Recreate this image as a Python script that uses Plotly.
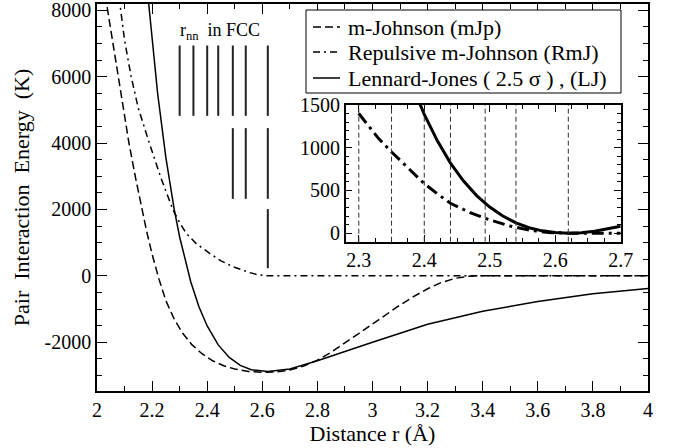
import plotly.graph_objects as go

# Hauptdiagramm: Paarenergie (K) gegen Abstand (Å)
r_mjp = [2.03, 2.05, 2.076, 2.10, 2.116, 2.14, 2.161, 2.18, 2.20, 2.225, 2.25, 2.28, 2.31, 2.345,
         2.38, 2.42, 2.46, 2.50, 2.55, 2.60, 2.65, 2.70, 2.75, 2.80, 2.85, 2.90, 2.95, 3.00,
         3.05, 3.10, 3.15, 3.20, 3.25, 3.30, 3.35, 3.38, 3.50, 4.00]
e_mjp = [8450, 7400, 6000, 4800, 4000, 2950, 2050, 1350, 650, -100, -750, -1300, -1720, -2080,
         -2340, -2560, -2710, -2810, -2880, -2905, -2895, -2840, -2720, -2540, -2300, -2030, -1740, -1450,
         -1160, -880, -620, -390, -200, -75, -12, 0, 0, 0]

r_rmj = [2.08, 2.10, 2.124, 2.15, 2.19, 2.23, 2.275, 2.30, 2.324, 2.36, 2.409, 2.45, 2.493,
         2.554, 2.585, 2.615, 3.00, 4.00]
e_rmj = [8400, 7100, 6000, 5050, 4000, 3000, 2000, 1600, 1280, 970, 680, 450, 277,
         97, 30, 0, 0, 0]

r_lj = [2.18, 2.20, 2.22, 2.25, 2.28, 2.30, 2.32, 2.34, 2.37, 2.40, 2.44, 2.48, 2.52, 2.56,
        2.62, 2.70, 2.80, 2.90, 3.00, 3.20, 3.40, 3.60, 3.80, 4.00]
e_lj = [8840, 7050, 5500, 3560, 2020, 1170, 450, -170, -930, -1510, -2080, -2460, -2700, -2830,
        -2880, -2810, -2560, -2270, -2000, -1460, -1070, -774, -543, -380]

# Einschub (vergroesserter Ausschnitt)
r_in_rmj = [2.30, 2.33, 2.35, 2.375, 2.40, 2.42, 2.44, 2.47, 2.50, 2.53, 2.56, 2.59, 2.62, 2.70]
e_in_rmj = [1400, 1110, 950, 760, 580, 460, 350, 240, 155, 85, 35, 8, 0, 0]

r_in_lj = [2.38, 2.40, 2.42, 2.44, 2.46, 2.48, 2.50, 2.52, 2.54, 2.56, 2.58, 2.60, 2.62,
           2.64, 2.66, 2.68, 2.70]
e_in_lj = [1760, 1390, 1080, 820, 610, 440, 305, 200, 121, 64, 27, 7, 0,
           6, 22, 48, 80]

# Nachbarabstaende r_nn im FCC-Gitter
r_nn = [2.30, 2.35, 2.40, 2.44, 2.493, 2.54, 2.62]
nn_rows = [(4820, 6940, 0), (2320, 4450, 4), (230, 2010, 6)]  # (unten, oben, erster Index)

y_ticks = [-2000, 0, 2000, 4000, 6000, 8000]
y_ticktext = [str(v) for v in y_ticks]

FONT = 'Liberation Serif'


def px_x(p):
    return (p - 97) / 551


def px_y(p):
    return 1 - (p - 4) / 387


fig = go.Figure()

fig.add_trace(go.Scatter(x=r_mjp, y=e_mjp, mode='lines', showlegend=False,
                         line=dict(color='black', width=1.5, dash='8px,4px')))
fig.add_trace(go.Scatter(x=r_rmj, y=e_rmj, mode='lines', showlegend=False,
                         line=dict(color='black', width=1.5, dash='7px,4px,2px,4px')))
fig.add_trace(go.Scatter(x=r_lj, y=e_lj, mode='lines', showlegend=False,
                         line=dict(color='black', width=1.5)))

# Balken fuer r_nn
for lo, hi, start in nn_rows:
    xs, ys = [], []
    for r in r_nn[start:]:
        xs += [r, r, None]
        ys += [lo, hi, None]
    fig.add_trace(go.Scatter(x=xs, y=ys, mode='lines', showlegend=False,
                             line=dict(color='#222222', width=2)))

# Einschub
fig.add_trace(go.Scatter(x=r_in_rmj, y=e_in_rmj, xaxis='x2', yaxis='y2', mode='lines', showlegend=False,
                         line=dict(color='black', width=3, dash='12px,5px,3px,5px')))
fig.add_trace(go.Scatter(x=r_in_lj, y=e_in_lj, xaxis='x2', yaxis='y2', mode='lines', showlegend=False,
                         line=dict(color='black', width=3)))

shapes = []
for r in r_nn:
    shapes.append(dict(type='line', xref='x2', yref='y2 domain', x0=r, x1=r, y0=0, y1=1,
                       line=dict(color='#333333', width=1, dash='5px,3px')))

# Legende von Hand
shapes.append(dict(type='rect', xref='paper', yref='paper', x0=px_x(306), x1=px_x(621),
                   y0=px_y(93), y1=px_y(10), line=dict(color='black', width=1), fillcolor='white'))
legend_items = [('m-Johnson (mJp)', '8px,4px', 27),
                ('Repulsive m-Johnson (RmJ)', '7px,4px,2px,4px', 52),
                ('Lennard-Jones ( 2.5 σ ) , (LJ)', 'solid', 78)]
annotations = []
for text, dash, yp in legend_items:
    shapes.append(dict(type='line', xref='paper', yref='paper', x0=px_x(313), x1=px_x(340),
                       y0=px_y(yp), y1=px_y(yp), line=dict(color='black', width=1.5, dash=dash)))
    annotations.append(dict(text=text, xref='paper', yref='paper', x=px_x(346), y=px_y(yp),
                            xanchor='left', yanchor='middle', showarrow=False,
                            font=dict(family=FONT, size=22, color='black')))

annotations.append(dict(text='r<sub>nn</sub>  in FCC', xref='x', yref='y', x=2.295, y=7350,
                        xanchor='left', yanchor='middle', showarrow=False,
                        font=dict(family=FONT, size=18, color='black')))

axis_common = dict(showline=True, linecolor='black', linewidth=1.5, mirror='allticks',
                   ticks='inside', tickcolor='black', showgrid=False, zeroline=False, automargin=False,
                   ticklabeloverflow='allow', tickfont=dict(family=FONT, size=20, color='black'))

fig.update_layout(
    width=674, height=448,
    margin=dict(l=97, r=26, t=4, b=57),
    paper_bgcolor='white', plot_bgcolor='white',
    font=dict(family=FONT, color='black'),
    xaxis=dict(range=[2, 4], tick0=2, dtick=0.2, ticklen=10,
               minor=dict(dtick=0.1, ticklen=5, ticks='inside', tickcolor='black'),
               title=dict(text='Distance r (Å)', font=dict(family=FONT, size=22), standoff=2),
               **axis_common),
    yaxis=dict(range=[-3470, 8190], tickmode='array', tickvals=y_ticks, ticktext=y_ticktext, ticklen=10,
               minor=dict(tick0=0, dtick=500, ticklen=5, ticks='inside', tickcolor='black'),
               title=dict(text='Pair  Interaction  Energy  (K)', font=dict(family=FONT, size=22), standoff=9),
               **axis_common),
    xaxis2=dict(domain=[px_x(345.7), px_x(620.7)], anchor='y2', range=[2.28, 2.70], tick0=2.3, dtick=0.1,
                ticklen=7, minor=dict(dtick=0.025, ticklen=4, ticks='inside', tickcolor='black'),
                **axis_common),
    yaxis2=dict(domain=[px_y(241.7), px_y(105)], anchor='x2', range=[-100, 1500], tick0=0, dtick=500,
                ticklen=7, minor=dict(dtick=100, ticklen=4, ticks='inside', tickcolor='black'),
                **axis_common),
    shapes=shapes,
    annotations=annotations,
)

# Seitenrand des Browsers entfernen, damit die Figur bei (0,0) beginnt
fig.write_html('out.html', config={'displayModeBar': False},
               post_script="document.body.style.margin='0';")
